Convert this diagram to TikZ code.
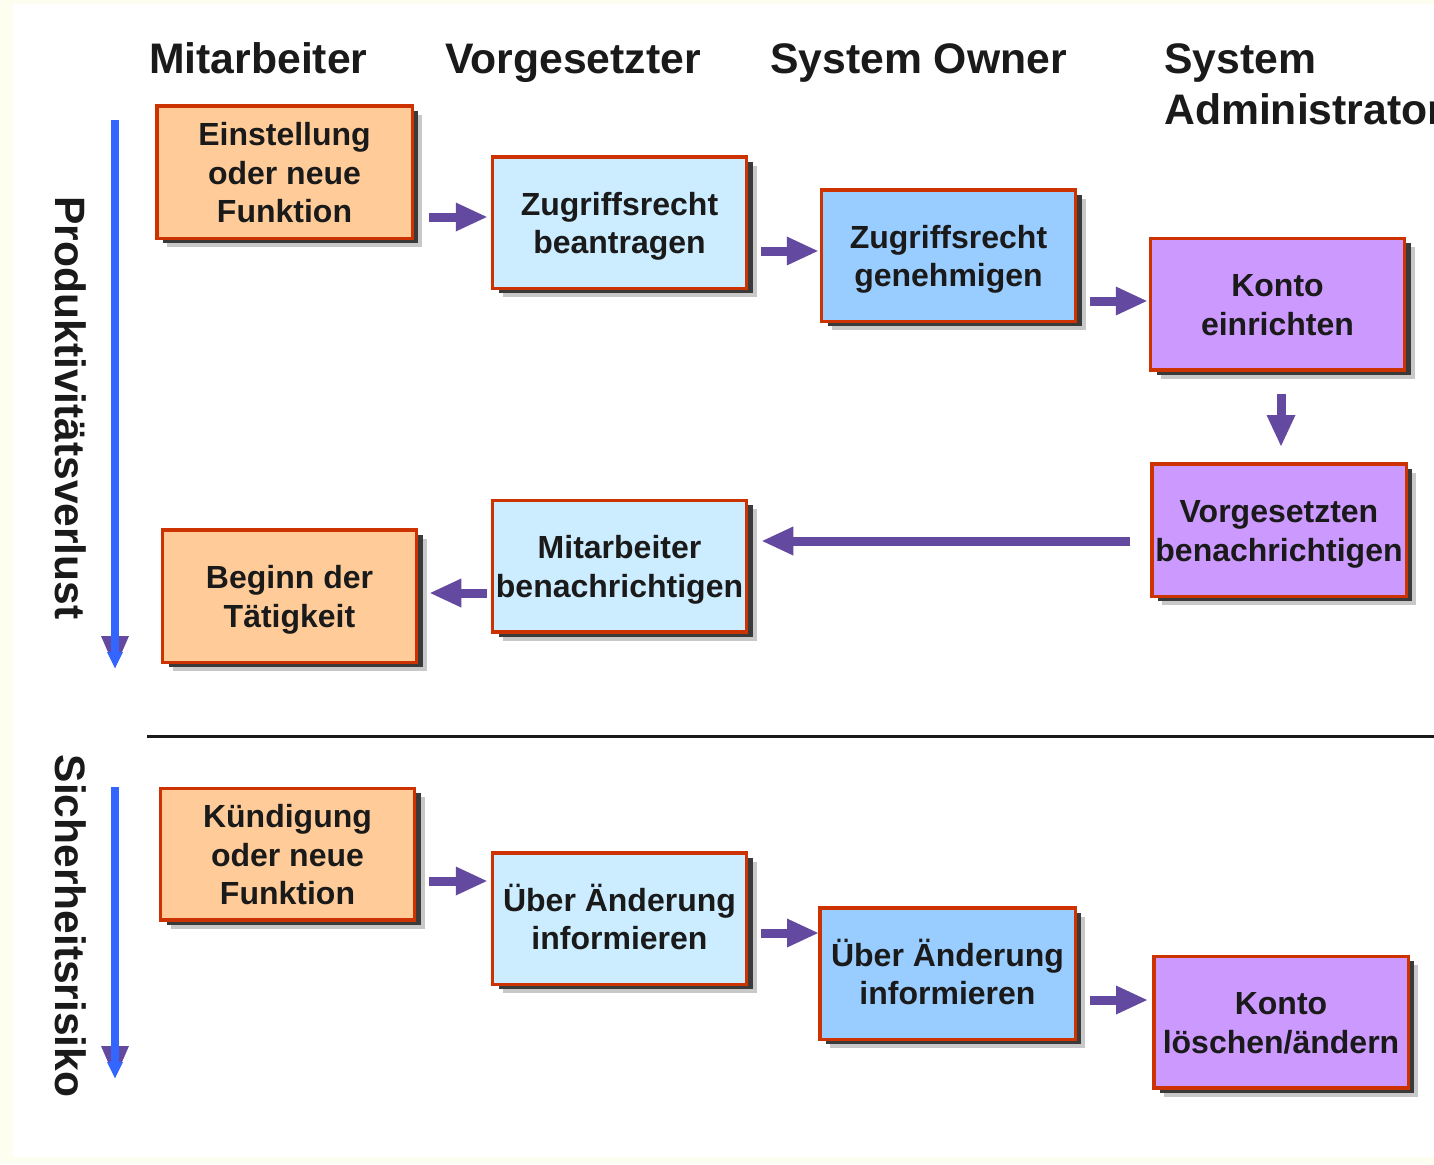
\documentclass[tikz,border=0pt]{standalone}
\usepackage{fontspec}
\setmainfont{Liberation Sans}
\usetikzlibrary{arrows.meta,shadows,calc}

\definecolor{pagecream}{HTML}{FEFEF0}
\definecolor{ink}{HTML}{1A1A1A}
\definecolor{boxborder}{HTML}{CC3300}
\definecolor{fillorange}{HTML}{FFCC99}
\definecolor{fillpale}{HTML}{CCECFF}
\definecolor{fillblue}{HTML}{99CCFF}
\definecolor{fillviolet}{HTML}{CC99FF}
\definecolor{flowpurple}{HTML}{6349A0}
\definecolor{sideblue}{HTML}{3366FF}
\definecolor{shadowdark}{HTML}{3A3A3A}
\definecolor{shadowlight}{HTML}{C8C8C8}

% fixed top/bottom struts so every box text sits on the same grid
\newcommand{\bxtop}{\rule{0pt}{32pt}}
\newcommand{\bxbot}{\rule[-8pt]{0pt}{8pt}}

\begin{document}
\begin{tikzpicture}[x=1pt,y=-1pt,
  box/.style={draw=boxborder, line width=3.5pt, inner sep=0pt, align=center,
    text=ink, font=\bfseries\fontsize{32}{38.5}\selectfont,
    minimum width=254pt, minimum height=131.5pt,
    drop shadow={shadow xshift=10pt, shadow yshift=-9pt, fill=shadowlight, opacity=1},
    drop shadow={shadow xshift=6pt, shadow yshift=-5pt, fill=shadowdark, opacity=1}},
  heading/.style={anchor=base west, inner sep=0pt, text=ink,
    font=\bfseries\fontsize{42.7}{50}\selectfont},
  sidelabel/.style={rotate=-90, inner sep=0pt, text=ink,
    font=\bfseries\fontsize{42.5}{50}\selectfont},
  flow/.style={draw=flowpurple, line width=9pt,
    -{Triangle[length=31pt,width=29pt,line width=0pt]}},
  timeline/.style={draw=sideblue, line width=8pt,
    -{Triangle[length=16pt,width=16pt,line width=0pt]}},
  divider/.style={draw=ink, line width=3pt}
]
% page background
\fill[pagecream] (0,0) rectangle (1434,1164);
\fill[white] (13,4) rectangle (1434,1157);
\useasboundingbox (0,0) rectangle (1434,1164);

% column headings
\node[heading] (hMit) at (149,74) {Mitarbeiter};
\node[heading] (hVor) at (445,74) {Vorgesetzter};
\node[heading] (hOwn) at (770,74) {System Owner};
\node[heading] (hAdm1) at (1164,74) {System};
\node[heading] (hAdm2) at (1164,124) {Administrator};

% side labels
\node[sidelabel] (lProd) at (71,408) {Produktivitätsverlust};
\node[sidelabel] (lSich) at (71,926) {Sicherheitsrisiko};

% timelines
\coordinate (t1s) at (115,120);
\coordinate (t1e) at (115,668);
\coordinate (t2s) at (115,787);
\coordinate (t2e) at (115,1078);
\fill[flowpurple] ($(t1e)+(-14,-32)$) -- ($(t1e)+(14,-32)$) -- (t1e) -- cycle;
\draw[timeline] (t1s) -- (t1e);
\fill[flowpurple] ($(t2e)+(-14,-32)$) -- ($(t2e)+(14,-32)$) -- (t2e) -- cycle;
\draw[timeline] (t2s) -- (t2e);

% divider between the two processes
\coordinate (dL) at (147,736);
\coordinate (dR) at (1434,736);
\draw[divider] (dL) -- (dR);

% onboarding process
\node[box, fill=fillorange, minimum width=255.5pt, minimum height=132.5pt] (b1) at (284.5,172) {\bxtop Einstellung\\oder neue\\Funktion\bxbot};
\node[box, fill=fillpale] (b2) at (619.5,222.5) {\bxtop Zugriffsrecht\\beantragen\bxbot};
\node[box, fill=fillblue] (b3) at (948.5,255.5) {\bxtop Zugriffsrecht\\genehmigen\bxbot};
\node[box, fill=fillviolet] (b4) at (1277.5,304) {\bxtop Konto\\einrichten\bxbot};
\node[box, fill=fillviolet, minimum width=254.5pt, minimum height=132.5pt] (b5) at (1279,530) {\bxtop Vorgesetzten\\benachrichtigen\bxbot};
\node[box, fill=fillpale] (b6) at (619.5,566) {\bxtop Mitarbeiter\\benachrichtigen\bxbot};
\node[box, fill=fillorange, minimum height=132.5pt] (b7) at (289.5,596) {\bxtop Beginn der\\Tätigkeit\bxbot};

% offboarding process
\node[box, fill=fillorange] (b8) at (287.5,854) {\bxtop Kündigung\\oder neue\\Funktion\bxbot};
\node[box, fill=fillpale] (b9) at (619.5,918.5) {\bxtop Über Änderung\\informieren\bxbot};
\node[box, fill=fillblue, minimum width=255.5pt] (b10) at (947.5,973.5) {\bxtop Über Änderung\\informieren\bxbot};
\node[box, fill=fillviolet, minimum width=254.5pt] (b11) at (1281,1022) {\bxtop Konto\\löschen/ändern\bxbot};

% flow heights
\coordinate (y1) at (0,217);
\coordinate (y2) at (0,251);
\coordinate (y3) at (0,301);
\coordinate (y5) at (0,541);
\coordinate (y6) at (0,593);
\coordinate (y7) at (0,881);
\coordinate (y8) at (0,933);
\coordinate (y9) at (0,1000);
\coordinate (x4) at (1281,0);

% connectors
\draw[flow, shorten <=15pt, shorten >=4pt] (b1.east |- y1) -- (b2.west |- y1);
\draw[flow, shorten <=13pt, shorten >=2pt] (b2.east |- y2) -- (b3.west |- y2);
\draw[flow, shorten <=13pt, shorten >=2pt] (b3.east |- y3) -- (b4.west |- y3);
\draw[flow, shorten <=22pt, shorten >=16pt] (b4.south -| x4) -- (b5.north -| x4);
\draw[flow, shorten <=20pt, shorten >=14pt] (b5.west |- y5) -- (b6.east |- y5);
\draw[flow, shorten <=4pt, shorten >=12pt] (b6.west |- y6) -- (b7.east |- y6);
\draw[flow, shorten <=13pt, shorten >=4pt] (b8.east |- y7) -- (b9.west |- y7);
\draw[flow, shorten <=13pt, shorten >=0pt] (b9.east |- y8) -- (b10.west |- y8);
\draw[flow, shorten <=13pt, shorten >=5pt] (b10.east |- y9) -- (b11.west |- y9);
\end{tikzpicture}
\end{document}
